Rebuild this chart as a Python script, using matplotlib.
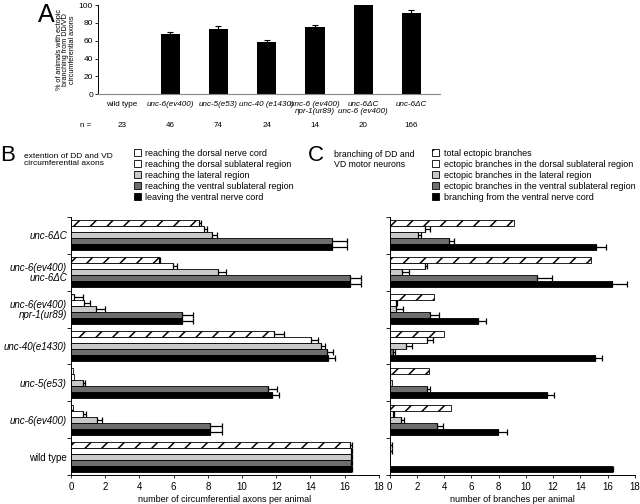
import numpy as np
import matplotlib

matplotlib.use("Agg")
import matplotlib.pyplot as plt
from matplotlib.patches import Patch

plt.rcParams["font.family"] = ["Liberation Sans", "DejaVu Sans"]
plt.rcParams["hatch.linewidth"] = 1.1

# ---- panel A ----
A_LABELS = ["wild type", "unc-6(ev400)", "unc-5(e53)", "unc-40 (e1430)",
            "unc-6 (ev400)\nnpr-1(ur89)", "unc-6\u0394C\nunc-6 (ev400)", "unc-6\u0394C"]
A_VALUES = [0, 67, 73, 58.5, 75, 99.5, 91]
A_ERR = [0, 2.5, 3, 2, 3, 2, 3.5]
A_N = [23, 46, 74, 24, 14, 20, 166]

# ---- panels B and C (bottom to top) ----
GENOTYPES = ["wild type", "unc-6(ev400)", "unc-5(e53)", "unc-40(e1430)",
             "unc-6(ev400)\nnpr-1(ur89)", "unc-6(ev400)\nunc-6\u0394C", "unc-6\u0394C"]

B_LABELS = ["reaching the dorsal nerve cord", "reaching the dorsal sublateral region",
            "reaching the lateral region", "reaching the ventral sublateral region",
            "leaving the ventral nerve cord"]
B_DORSAL_CORD = [16.3, 0.1, 0.1, 11.87, 0.18, 5.16, 7.5]
B_DORSAL_CORD_ERR = [0.1, 0.0, 0.0, 0.6, 0.5, 0.05, 0.1]
B_DORSAL_SUB = [16.35, 0.72, 0.15, 14.02, 0.76, 5.95, 7.78]
B_DORSAL_SUB_ERR = [0.1, 0.16, 0.0, 0.44, 0.35, 0.23, 0.16]
B_LATERAL = [16.35, 1.5, 0.72, 14.6, 1.46, 8.61, 8.23]
B_LATERAL_ERR = [0.1, 0.3, 0.1, 0.25, 0.53, 0.44, 0.31]
B_VENTRAL_SUB = [16.35, 8.13, 11.54, 14.95, 6.47, 16.3, 15.26]
B_VENTRAL_SUB_ERR = [0.1, 0.68, 0.52, 0.35, 0.68, 0.64, 0.86]
B_LEAVING = [16.35, 8.13, 11.74, 15.05, 6.47, 16.3, 15.26]
B_LEAVING_ERR = [0.1, 0.68, 0.44, 0.39, 0.68, 0.64, 0.86]

C_LABELS = ["total ectopic branches", "ectopic branches in the dorsal sublateral region",
            "ectopic branches in the lateral region", "ectopic branches in the ventral sublateral region",
            "branching from the ventral nerve cord"]
C_TOTAL = [0.05, 4.49, 2.87, 3.97, 3.26, 14.8, 9.1]
C_TOTAL_ERR = [0.1, 0, 0, 0, 0, 0, 0]
C_DORSAL_SUB = [0.05, 0.25, 0.0, 2.7, 0.45, 2.57, 2.57]
C_DORSAL_SUB_ERR = [0.1, 0.05, 0, 0.48, 0.1, 0.18, 0.37]
C_LATERAL = [0.0, 0.79, 0.2, 1.18, 0.45, 0.93, 2.08]
C_LATERAL_ERR = [0, 0.24, 0, 0.42, 0.55, 0.5, 0.25]
C_VENTRAL_SUB = [0.0, 3.48, 2.7, 0.25, 2.99, 10.8, 4.36]
C_VENTRAL_SUB_ERR = [0, 0.44, 0.24, 0.12, 0.64, 1.15, 0.37]
C_VNC = [16.3, 7.97, 11.57, 15.07, 6.45, 16.35, 15.15]
C_VNC_ERR = [0.12, 0.66, 0.49, 0.5, 0.65, 1.05, 0.75]

STYLES = [
    dict(facecolor="white", hatch="//"),
    dict(facecolor="white"),
    dict(facecolor="#c9c9c9"),
    dict(facecolor="#6e6e6e"),
    dict(facecolor="black"),
]
BAR_H = 0.162


def italic_label(text):
    return "normal" if text == "wild type" else "italic"


def grouped_barh(ax, series, errors, xlabel):
    y = np.arange(len(GENOTYPES))
    for k, (vals, errs) in enumerate(zip(series, errors)):
        pos = y + (2 - k) * BAR_H
        ax.barh(pos, vals, height=BAR_H, edgecolor="black", linewidth=0.6, **STYLES[k])
        vals = np.array(vals)
        errs = np.array(errs)
        keep = errs > 0
        ax.errorbar(vals[keep], pos[keep], xerr=[np.zeros(keep.sum()), errs[keep]],
                    fmt="none", ecolor="black", elinewidth=0.9, capsize=2.2, capthick=0.9)
    ax.set_ylim(-0.5, len(GENOTYPES) - 0.5)
    ax.set_xlim(0, 18)
    ax.set_xticks(range(0, 19, 2))
    ax.set_yticks(y)
    ax.set_yticks(np.arange(-0.5, len(GENOTYPES), 1), minor=True)
    ax.tick_params(axis="y", which="major", length=0, pad=3)
    ax.tick_params(axis="y", which="minor", length=3, width=0.6)
    ax.tick_params(axis="x", length=2, width=0.6, labelsize=7, pad=3)
    for side in ("top", "right"):
        ax.spines[side].set_visible(False)
    for side in ("left", "bottom"):
        ax.spines[side].set_linewidth(0.7)
    ax.set_xlabel(xlabel, fontsize=6.5, labelpad=2)


fig = plt.figure(figsize=(6.4, 5.04), dpi=100)

# panel A
ax_a = fig.add_axes([0.153, 0.813, 0.535, 0.177])
xa = np.arange(len(A_LABELS))
ax_a.bar(xa, A_VALUES, width=0.4, color="black")
ax_a.errorbar(xa[1:], A_VALUES[1:], yerr=[np.zeros(len(xa) - 1), A_ERR[1:]],
              fmt="none", ecolor="black", elinewidth=0.8, capsize=2.5, capthick=0.8)
ax_a.set_xlim(-0.5, 6.6)
ax_a.set_ylim(0, 100)
ax_a.set_yticks(range(0, 101, 20))
ax_a.set_xticks(xa)
ax_a.set_xticklabels(A_LABELS, fontsize=5.8, va="top", linespacing=1.0)
for lab in ax_a.get_xticklabels():
    lab.set_fontstyle(italic_label(lab.get_text()))
ax_a.tick_params(axis="x", length=0, pad=5)
ax_a.tick_params(axis="y", length=2, width=0.6, labelsize=6, pad=1.5)
for side in ("top", "right"):
    ax_a.spines[side].set_visible(False)
ax_a.spines["bottom"].set_color("#888888")
ax_a.spines["left"].set_linewidth(0.7)
ax_a.set_ylabel("% of animals with ectopic\nbranching from DD/VD\ncircumferential axons",
                fontsize=5.2, labelpad=2, linespacing=0.95)
for xi, n in zip(xa, A_N):
    ax_a.text(xi, -0.35, str(n), transform=ax_a.get_xaxis_transform(), ha="center",
              va="center", fontsize=5.8)
ax_a.text(-0.75, -0.35, "n =", transform=ax_a.get_xaxis_transform(), ha="center",
          va="center", fontsize=5.8)
fig.text(0.073, 0.97, "A", fontsize=18, ha="center", va="center")

# panel B
ax_b = fig.add_axes([0.111, 0.0575, 0.481, 0.512])
grouped_barh(ax_b, [B_DORSAL_CORD, B_DORSAL_SUB, B_LATERAL, B_VENTRAL_SUB, B_LEAVING],
             [B_DORSAL_CORD_ERR, B_DORSAL_SUB_ERR, B_LATERAL_ERR, B_VENTRAL_SUB_ERR, B_LEAVING_ERR],
             "number of circumferential axons per animal")
ax_b.set_yticklabels(GENOTYPES, fontsize=7, linespacing=1.0)
for lab in ax_b.get_yticklabels():
    lab.set_fontstyle(italic_label(lab.get_text()))

# panel C
ax_c = fig.add_axes([0.609, 0.0575, 0.383, 0.512])
grouped_barh(ax_c, [C_TOTAL, C_DORSAL_SUB, C_LATERAL, C_VENTRAL_SUB, C_VNC],
             [C_TOTAL_ERR, C_DORSAL_SUB_ERR, C_LATERAL_ERR, C_VENTRAL_SUB_ERR, C_VNC_ERR],
             "number of branches per animal")
ax_c.set_yticklabels([])

# headers and legends
fig.text(0.012, 0.692, "B", fontsize=16, ha="center", va="center")
fig.text(0.038, 0.683, "extention of DD and VD\ncircumferential axons", fontsize=6,
         ha="left", va="center", linespacing=1.1)
fig.text(0.493, 0.692, "C", fontsize=16, ha="center", va="center")
fig.text(0.522, 0.683, "branching of DD and\nVD motor neurons", fontsize=6.3,
         ha="left", va="center", linespacing=1.1)

handles = [Patch(edgecolor="black", linewidth=0.6, **s) for s in STYLES]
leg_kw = dict(loc="upper left", frameon=False, fontsize=6.5, handlelength=0.8,
              handleheight=0.8, handletextpad=0.5, labelspacing=0.22, borderpad=0,
              borderaxespad=0)
fig.legend(handles, B_LABELS, bbox_to_anchor=(0.209, 0.705), **leg_kw)
fig.legend(handles, C_LABELS, bbox_to_anchor=(0.675, 0.705), **leg_kw)

fig.savefig("out.png", dpi=100)
